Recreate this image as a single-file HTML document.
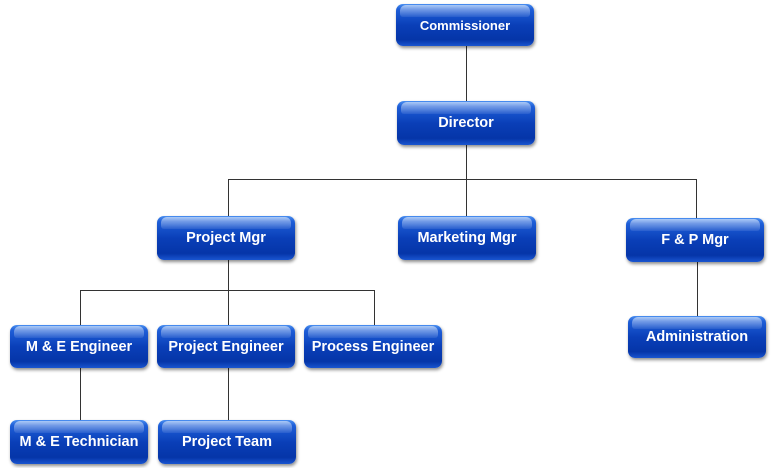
<!DOCTYPE html>
<html><head><style>
body{margin:0;width:777px;height:468px;background:#fff;position:relative;overflow:hidden;font-family:"Liberation Sans",sans-serif}
.n{position:absolute;width:138px;height:43px;border-radius:7px;background:linear-gradient(#4a8ff0 0%,#1f5fd8 12%,#0a3fb8 50%,#0535a8 85%,#1a55d0 100%);box-shadow:1px 2px 3px rgba(0,0,0,.45);color:#fff;font-weight:bold;font-size:14.5px;display:flex;align-items:center;justify-content:center;overflow:hidden}
.n:before{content:"";position:absolute;left:4px;right:4px;top:1px;height:12px;border-radius:6px 6px 3px 3px;background:linear-gradient(rgba(255,255,255,.55),rgba(255,255,255,.08))}
.n span{position:relative}
.l{position:absolute;background:#333}
</style></head><body>
<div class="l" style="left:466px;top:46px;width:1px;height:55px"></div>
<div class="l" style="left:466px;top:145px;width:1px;height:71px"></div>
<div class="l" style="left:228px;top:179px;width:469px;height:1px"></div>
<div class="l" style="left:228px;top:179px;width:1px;height:37px"></div>
<div class="l" style="left:696px;top:179px;width:1px;height:39px"></div>
<div class="l" style="left:228px;top:260px;width:1px;height:65px"></div>
<div class="l" style="left:80px;top:290px;width:295px;height:1px"></div>
<div class="l" style="left:80px;top:290px;width:1px;height:35px"></div>
<div class="l" style="left:374px;top:290px;width:1px;height:35px"></div>
<div class="l" style="left:80px;top:368px;width:1px;height:52px"></div>
<div class="l" style="left:228px;top:368px;width:1px;height:52px"></div>
<div class="l" style="left:697px;top:262px;width:1px;height:54px"></div>

<div class="n" style="left:396px;top:4px;height:42px;font-size:13px"><span>Commissioner</span></div>
<div class="n" style="left:397px;top:101px;height:44px"><span>Director</span></div>
<div class="n" style="left:157px;top:216px;height:44px"><span>Project Mgr</span></div>
<div class="n" style="left:398px;top:216px;height:44px"><span>Marketing Mgr</span></div>
<div class="n" style="left:626px;top:218px;height:44px"><span>F &amp; P Mgr</span></div>
<div class="n" style="left:10px;top:325px"><span>M &amp; E Engineer</span></div>
<div class="n" style="left:157px;top:325px"><span>Project Engineer</span></div>
<div class="n" style="left:304px;top:325px"><span>Process Engineer</span></div>
<div class="n" style="left:628px;top:316px;height:42px"><span>Administration</span></div>
<div class="n" style="left:10px;top:420px;height:44px"><span>M &amp; E Technician</span></div>
<div class="n" style="left:158px;top:420px;height:44px"><span>Project Team</span></div>
</body></html>
